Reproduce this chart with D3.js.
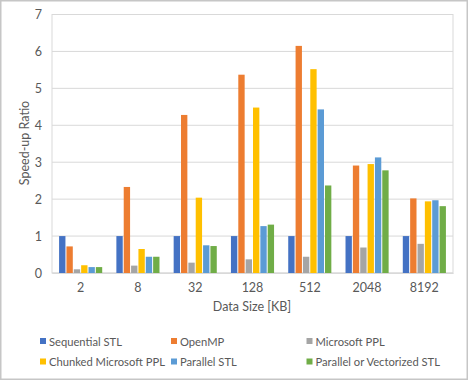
<!DOCTYPE html>
<html><head><meta charset="utf-8">
<script src="https://cdn.jsdelivr.net/npm/d3@7"></script>
<style>
html,body{margin:0;padding:0;background:#fff;}
svg{display:block;font-family:Lato,"Liberation Sans",sans-serif;}
</style></head>
<body><svg id="c" width="468" height="380"></svg>
<script>
const categories = ["2","8","32","128","512","2048","8192"];
const seriesNames = ["Sequential STL","OpenMP","Microsoft PPL","Chunked Microsoft PPL","Parallel STL","Parallel or Vectorized STL"];
const seriesColors = ["#4472C4","#ED7D31","#A5A5A5","#FFC000","#5B9BD5","#70AD47"];
const sequentialSTL = [1,1,1,1,1,1,1];
const openMP = [0.72,2.33,4.28,5.37,6.15,2.91,2.02];
const microsoftPPL = [0.10,0.20,0.28,0.37,0.44,0.69,0.79];
const chunkedPPL = [0.21,0.65,2.04,4.48,5.52,2.95,1.94];
const parallelSTL = [0.16,0.44,0.75,1.27,4.43,3.13,1.97];
const parallelVecSTL = [0.16,0.44,0.73,1.31,2.37,2.78,1.81];
const yTicks = [0,1,2,3,4,5,6,7];

const seriesValues = [sequentialSTL, openMP, microsoftPPL, chunkedPPL, parallelSTL, parallelVecSTL];

const svg = d3.select("#c");
const W = 468, H = 380;
const m = {left:52, right:15, top:14.5, bottom:107};
const pw = W - m.left - m.right, ph = H - m.top - m.bottom;
const FS = "12.5px", LFS = "11.2px";

// outer frame
svg.append("rect").attr("x",0.75).attr("y",0.75).attr("width",W-1.5).attr("height",H-1.5)
  .attr("fill","#fff").attr("stroke","#c6c6c6").attr("stroke-width",1.5);

const x0 = d3.scaleBand().domain(categories).range([m.left, m.left+pw]).paddingInner(0.23).paddingOuter(0.115);
const x1 = d3.scaleBand().domain(d3.range(seriesNames.length)).range([0, x0.bandwidth()]);
const y = d3.scaleLinear().domain([0,7]).range([m.top+ph, m.top]);

// gridlines
svg.append("g").selectAll("line").data(yTicks).join("line")
  .attr("x1",m.left).attr("x2",m.left+pw)
  .attr("y1",d=>y(d)).attr("y2",d=>y(d))
  .attr("stroke","#d9d9d9").attr("stroke-width",1);

// plot border
svg.append("rect").attr("x",m.left).attr("y",m.top).attr("width",pw).attr("height",ph)
  .attr("fill","none").attr("stroke","#d9d9d9").attr("stroke-width",1);

// bars
const g = svg.append("g");
categories.forEach((c,ci)=>{
  seriesValues.forEach((vals,si)=>{
    g.append("rect")
      .attr("x", x0(c)+x1(si)+0.5)
      .attr("y", y(vals[ci]))
      .attr("width", x1.bandwidth()-1)
      .attr("height", y(0)-y(vals[ci]))
      .attr("fill", seriesColors[si]);
  });
});

// axes
const yAxis = svg.append("g").attr("transform",`translate(${m.left},0)`)
  .call(d3.axisLeft(y).tickValues(yTicks).tickFormat(d3.format("d")).tickSize(0).tickPadding(10));
yAxis.select(".domain").remove();
yAxis.selectAll("text").attr("fill","#595959").style("font-size",FS).style("font-family","Lato");

const xAxis = svg.append("g").attr("transform",`translate(0,${y(0)})`)
  .call(d3.axisBottom(x0).tickSize(0).tickPadding(10));
xAxis.select(".domain").attr("stroke","#d9d9d9");
xAxis.selectAll("text").attr("fill","#595959").style("font-size",FS).style("font-family","Lato");

// axis titles
svg.append("text").attr("transform","translate(29,143) rotate(-90)")
  .attr("text-anchor","middle").attr("fill","#595959").style("font-size",FS).text("Speed-up Ratio");
svg.append("text").attr("x",252).attr("y",311)
  .attr("text-anchor","middle").attr("fill","#595959").style("font-size",FS).text("Data Size [KB]");

// legend
const legX = [40,171,306.5], legY = [341.5,362];
seriesNames.forEach((n,i)=>{
  const cx = legX[i%3], cy = legY[Math.floor(i/3)];
  svg.append("rect").attr("x",cx).attr("y",cy-3.5).attr("width",6).attr("height",6).attr("fill",seriesColors[i]);
  svg.append("text").attr("x",cx+9).attr("y",cy+4.2).attr("fill","#595959").style("font-size",LFS).text(n);
});
</script></body></html>
